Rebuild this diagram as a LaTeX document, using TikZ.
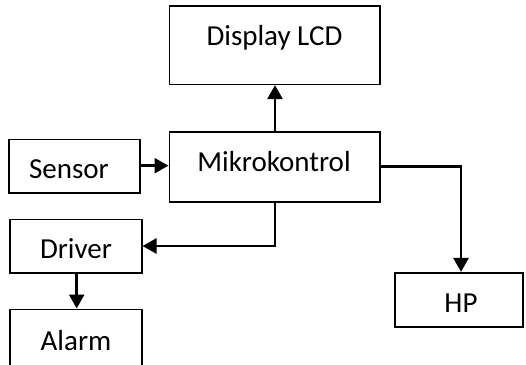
\documentclass[tikz,border=0pt]{standalone}
\usepackage{fontspec}
\setmainfont{Carlito}
\usetikzlibrary{arrows.meta}
\begin{document}
\begin{tikzpicture}[x=1pt,y=-1pt,
  box/.style={draw, line width=1.6pt, rectangle, inner sep=0pt},
  txt/.style={anchor=base, inner sep=0pt, font=\fontsize{29}{34}\selectfont},
  conn/.style={line width=2.6pt, -{Triangle[length=14pt,width=15pt]}}]
\useasboundingbox (0,0) rectangle (526,364);
% boxes: corners given explicitly
\node[box, minimum width=210.7pt, minimum height=78.3pt] (lcd) at (274.65,45.15) {};
\node[box, minimum width=210.7pt, minimum height=70pt] (mk) at (274.65,166.7) {};
\node[box, minimum width=131pt, minimum height=53.4pt] (sen) at (74.5,166) {};
\node[box, minimum width=131.7pt, minimum height=53.4pt] (drv) at (75.85,246) {};
\node[box, minimum width=131.7pt, minimum height=58pt] (alm) at (75.85,338.3) {};
\node[box, minimum width=128pt, minimum height=54pt] (hp) at (459,299.7) {};
% texts
\node[txt] (lcdt) at (274.5,45) {Display LCD};
\node[txt] (mkt) at (274,171) {Mikrokontrol};
\node[txt] (sent) at (69,178) {Sensor};
\node[txt] (drvt) at (76,258) {Driver};
\node[txt] (almt) at (76,350) {Alarm};
\node[txt] (hpt) at (461,312) {HP};
% connectors
\draw[conn] (mk.north -| 275,0) -- (lcd.south -| 275,0);
\draw[conn] (sen.east |- 0,165.7) -- (mk.west |- 0,165.7);
\draw[conn] (mk.east |- 0,166.7) -| (hp.north -| 461,0);
\draw[conn] (mk.south -| 275,0) |- (drv.east |- 0,246);
\draw[conn] (drv.south -| 76.7,0) -- (alm.north -| 76.7,0);
\end{tikzpicture}
\end{document}
